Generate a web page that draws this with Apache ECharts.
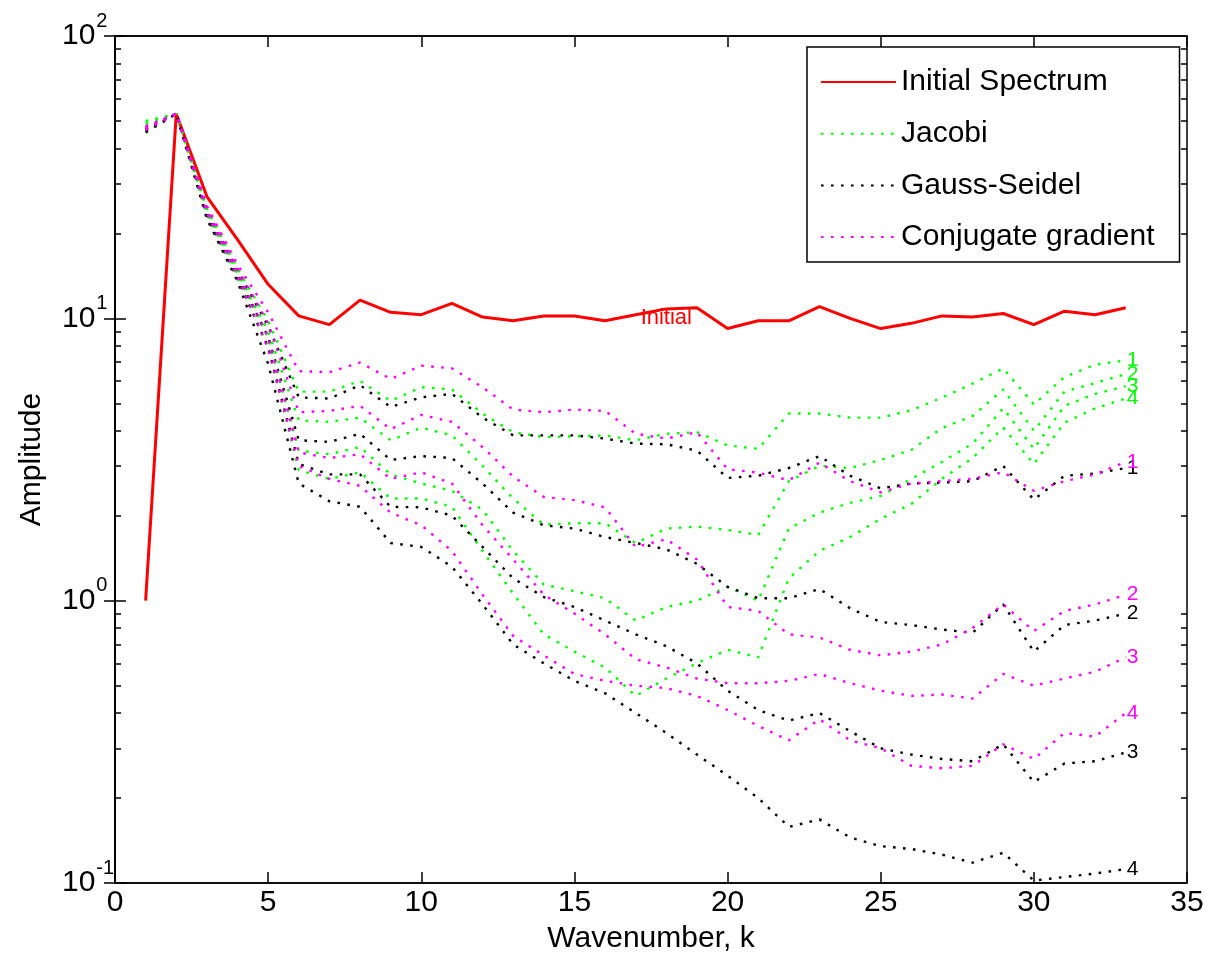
<!DOCTYPE html>
<html>
<head>
<meta charset="utf-8">
<script src="https://cdn.jsdelivr.net/npm/echarts@6/dist/echarts.min.js"></script>
<style>
  html, body { margin: 0; padding: 0; background: #fff; }
  #chart { width: 1216px; height: 975px; }
</style>
</head>
<body>
<div id="chart"></div>
<script>
// Wavenumbers sampled
const k = [1, 2, 3, 4, 5, 6, 7, 8, 9, 10, 11, 12, 13, 14, 15, 16, 17,
           18, 19, 20, 21, 22, 23, 24, 25, 26, 27, 28, 29, 30, 31, 32, 33];

// Initial error spectrum
const initialSpectrum = [1.0, 53, 27, 19, 13.2, 10.2, 9.5, 11.6, 10.5, 10.3, 11.3, 10.1, 9.8, 10.2, 10.2, 9.8, 10.3,
                         10.8, 10.9, 9.2, 9.8, 9.8, 11.0, 10.0, 9.2, 9.6, 10.2, 10.1, 10.4, 9.5, 10.6, 10.3, 10.9];

// Jacobi, curves 1-4
const jacobi1 = [50, 53, 24.5, 15.0, 9.8, 5.5, 5.5, 6.0, 5.1, 5.7, 5.6, 4.6, 3.95, 3.8, 3.82, 3.85, 3.7,
                 3.9, 3.95, 3.55, 3.45, 4.6, 4.6, 4.45, 4.45, 4.73, 5.24, 5.87, 6.65, 4.95, 6.2, 6.85, 7.1];
const jacobi2 = [49, 53, 24.0, 14.5, 9.0, 4.35, 4.3, 4.45, 3.7, 4.1, 3.85, 3.0, 2.3, 1.86, 1.88, 1.88, 1.6,
                 1.8, 1.83, 1.78, 1.71, 2.65, 3.0, 2.95, 3.15, 3.42, 4.09, 4.51, 5.6, 4.0, 5.5, 5.9, 6.35];
const jacobi3 = [48, 53, 23.5, 14.3, 8.5, 3.4, 3.3, 3.5, 2.8, 2.6, 2.45, 2.1, 1.5, 1.14, 1.08, 1.02, 0.85,
                 0.95, 1.0, 1.12, 1.0, 1.8, 2.05, 2.22, 2.35, 2.7, 3.1, 3.6, 4.8, 3.45, 4.9, 5.4, 5.75];
const jacobi4 = [47, 53, 23.0, 13.8, 7.9, 2.9, 2.7, 2.85, 2.3, 2.3, 2.15, 1.5, 1.06, 0.76, 0.66, 0.58, 0.46,
                 0.53, 0.6, 0.67, 0.63, 1.2, 1.5, 1.68, 1.95, 2.2, 2.7, 3.2, 4.1, 3.05, 4.27, 4.8, 5.2];

// Gauss-Seidel, curves 1-4
const gaussSeidel1 = [47, 53, 24.0, 14.8, 9.4, 5.25, 5.2, 5.8, 4.85, 5.25, 5.4, 4.45, 3.85, 3.85, 3.85, 3.75, 3.6,
                      3.58, 3.4, 2.72, 2.77, 2.95, 3.25, 2.77, 2.5, 2.6, 2.62, 2.65, 3.0, 2.28, 2.77, 2.82, 2.95];
const gaussSeidel2 = [46.5, 53, 23.5, 14.2, 8.6, 3.7, 3.65, 3.9, 3.15, 3.25, 3.2, 2.6, 2.05, 1.85, 1.8, 1.68, 1.6,
                      1.52, 1.35, 1.12, 1.02, 1.02, 1.1, 0.94, 0.84, 0.82, 0.79, 0.77, 0.97, 0.66, 0.82, 0.85, 0.9];
const gaussSeidel3 = [46, 53, 23.0, 13.8, 7.9, 3.05, 2.8, 2.8, 2.15, 2.14, 2.0, 1.55, 1.2, 1.03, 0.95, 0.85, 0.76,
                      0.69, 0.6, 0.48, 0.41, 0.376, 0.40, 0.345, 0.30, 0.285, 0.275, 0.27, 0.31, 0.228, 0.265, 0.27, 0.29];
const gaussSeidel4 = [45.5, 53, 22.5, 13.5, 6.9, 2.6, 2.25, 2.15, 1.6, 1.55, 1.32, 0.97, 0.7, 0.6, 0.52, 0.47, 0.40,
                      0.34, 0.285, 0.24, 0.20, 0.158, 0.168, 0.145, 0.135, 0.132, 0.126, 0.118, 0.128, 0.102, 0.105, 0.108, 0.112];

// Conjugate gradient, curves 1-4
const conjGrad1 = [48, 53, 25.0, 15.5, 10.5, 6.5, 6.45, 6.97, 6.1, 6.8, 6.65, 5.7, 4.75, 4.65, 4.75, 4.7, 3.9,
                   3.75, 3.95, 2.92, 2.84, 2.67, 3.08, 2.65, 2.42, 2.6, 2.65, 2.7, 2.85, 2.45, 2.65, 2.8, 3.1];
const conjGrad2 = [47.5, 53, 24.5, 15.0, 9.6, 4.65, 4.7, 4.9, 4.05, 4.55, 4.3, 3.5, 2.75, 2.33, 2.27, 2.14, 1.55,
                   1.65, 1.4, 0.95, 0.92, 0.76, 0.74, 0.67, 0.64, 0.66, 0.7, 0.8, 0.97, 0.78, 0.92, 0.97, 1.05];
const conjGrad3 = [47, 53, 24.0, 14.5, 8.6, 3.35, 3.2, 3.3, 2.7, 2.85, 2.6, 1.85, 1.4, 1.05, 0.9, 0.76, 0.62,
                   0.58, 0.53, 0.51, 0.51, 0.52, 0.55, 0.51, 0.48, 0.46, 0.465, 0.45, 0.55, 0.5, 0.53, 0.56, 0.63];
const conjGrad4 = [46.5, 53, 23.5, 14.0, 7.8, 3.0, 2.7, 2.55, 2.05, 1.85, 1.5, 1.05, 0.75, 0.64, 0.55, 0.52, 0.5,
                   0.49, 0.46, 0.41, 0.36, 0.32, 0.38, 0.32, 0.30, 0.26, 0.255, 0.26, 0.31, 0.275, 0.34, 0.33, 0.40];

// Axis ticks
const yDecades = [0.1, 1, 10, 100];
const yMinorTicks = [0.2, 0.3, 0.4, 0.5, 0.6, 0.7, 0.8, 0.9,
                     2, 3, 4, 5, 6, 7, 8, 9,
                     20, 30, 40, 50, 60, 70, 80, 90];

const FONT = "'Liberation Sans', Arial, Helvetica, sans-serif";
const RED = '#ff0000', GREEN = '#00ff00', BLACK = '#000000', MAGENTA = '#ff00ff';

const pairs = vals => k.map((x, i) => [x, vals[i]]);

function dottedSeries(name, vals, color, tag) {
  return {
    name: name,
    type: 'line',
    data: pairs(vals),
    symbol: 'none',
    showSymbol: false,
    silent: true,
    lineStyle: { color: color, width: 2.4, type: [2.6, 7.4], cap: 'butt' },
    itemStyle: { color: color },
    emphasis: { disabled: true },
    endLabel: {
      show: true,
      formatter: tag,
      color: color,
      fontSize: 21,
      fontFamily: FONT,
      distance: 1
    }
  };
}

const axisLineStyle = { color: BLACK, width: 1.5 };

const option = {
  animation: false,
  backgroundColor: '#ffffff',
  grid: {
    left: 115, right: 29, top: 36, bottom: 92, containLabel: false,
    show: true, borderColor: BLACK, borderWidth: 1.5, backgroundColor: 'transparent'
  },
  legend: {
    orient: 'vertical',
    left: 807,
    top: 47,
    padding: [20, 25, 10, 13],
    itemGap: 21.7,
    itemWidth: 75,
    itemHeight: 14,
    backgroundColor: '#ffffff',
    borderColor: BLACK,
    borderWidth: 1.5,
    borderRadius: 0,
    selectedMode: false,
    itemStyle: { opacity: 0, borderWidth: 0 },
    textStyle: { fontSize: 30, color: BLACK, fontFamily: FONT, lineHeight: 30 },
    data: ['Initial Spectrum', 'Jacobi', 'Gauss-Seidel', 'Conjugate gradient']
  },
  xAxis: [
    {
      type: 'value', position: 'bottom', min: 0, max: 35, interval: 5,
      name: 'Wavenumber, k', nameLocation: 'middle', nameGap: 41,
      nameTextStyle: { fontSize: 30, color: BLACK, fontFamily: FONT },
      axisLine: { show: true, lineStyle: axisLineStyle },
      axisTick: { show: true, inside: true, length: 11, lineStyle: axisLineStyle },
      axisLabel: { fontSize: 30, color: BLACK, fontFamily: FONT, margin: 5,
                   formatter: v => String(v) },
      splitLine: { show: false }
    },
    {
      type: 'value', position: 'top', min: 0, max: 35, interval: 5,
      axisLine: { show: true, lineStyle: axisLineStyle },
      axisTick: { show: true, inside: true, length: 11, lineStyle: axisLineStyle },
      axisLabel: { show: false },
      splitLine: { show: false }
    }
  ],
  yAxis: [
    {
      type: 'log', logBase: 10, position: 'left', min: yDecades[0], max: yDecades[yDecades.length - 1],
      name: 'Amplitude', nameLocation: 'middle', nameGap: 68,
      nameTextStyle: { fontSize: 30, color: BLACK, fontFamily: FONT },
      axisLine: { show: true, lineStyle: axisLineStyle },
      axisTick: { show: true, inside: true, length: 11, lineStyle: axisLineStyle },
      axisLabel: {
        align: 'left',
        margin: 53,
        formatter: v => '{b|10}{e|' + Math.round(Math.log10(v)) + '}',
        rich: {
          b: { fontSize: 30, color: BLACK, fontFamily: FONT },
          e: { fontSize: 20, color: BLACK, fontFamily: FONT, padding: [0, 0, 30, 1] }
        }
      },
      splitLine: { show: false }
    },
    {
      type: 'log', logBase: 10, position: 'right', min: yDecades[0], max: yDecades[yDecades.length - 1],
      axisLine: { show: true, lineStyle: axisLineStyle },
      axisTick: { show: true, inside: true, length: 11, lineStyle: axisLineStyle },
      axisLabel: { show: false },
      splitLine: { show: false }
    },
    {
      type: 'log', logBase: 10, position: 'left', min: yDecades[0], max: yDecades[yDecades.length - 1],
      axisLine: { show: false },
      axisTick: { show: true, inside: true, length: 6, lineStyle: axisLineStyle, customValues: yMinorTicks },
      axisLabel: { show: false },
      splitLine: { show: false }
    },
    {
      type: 'log', logBase: 10, position: 'right', min: yDecades[0], max: yDecades[yDecades.length - 1],
      axisLine: { show: false },
      axisTick: { show: true, inside: true, length: 6, lineStyle: axisLineStyle, customValues: yMinorTicks },
      axisLabel: { show: false },
      splitLine: { show: false }
    }
  ],
  series: [
    {
      name: 'Initial Spectrum',
      type: 'line',
      data: pairs(initialSpectrum),
      symbol: 'none',
      showSymbol: false,
      silent: true,
      z: 3,
      lineStyle: { color: RED, width: 3 },
      itemStyle: { color: RED },
      emphasis: { disabled: true },
      markPoint: {
        silent: true,
        symbol: 'rect',
        symbolSize: 1,
        itemStyle: { color: 'rgba(0,0,0,0)' },
        label: { show: true, position: 'inside', formatter: 'Initial', color: RED, fontSize: 22, fontFamily: FONT },
        data: [{ coord: [18, 10] }]
      }
    },
    dottedSeries('Jacobi', jacobi1, GREEN, '1'),
    dottedSeries('Jacobi', jacobi2, GREEN, '2'),
    dottedSeries('Jacobi', jacobi3, GREEN, '3'),
    dottedSeries('Jacobi', jacobi4, GREEN, '4'),
    dottedSeries('Gauss-Seidel', gaussSeidel1, BLACK, '1'),
    dottedSeries('Gauss-Seidel', gaussSeidel2, BLACK, '2'),
    dottedSeries('Gauss-Seidel', gaussSeidel3, BLACK, '3'),
    dottedSeries('Gauss-Seidel', gaussSeidel4, BLACK, '4'),
    dottedSeries('Conjugate gradient', conjGrad1, MAGENTA, '1'),
    dottedSeries('Conjugate gradient', conjGrad2, MAGENTA, '2'),
    dottedSeries('Conjugate gradient', conjGrad3, MAGENTA, '3'),
    dottedSeries('Conjugate gradient', conjGrad4, MAGENTA, '4')
  ]
};

const chart = echarts.init(document.getElementById('chart'), null, { renderer: 'canvas' });
chart.setOption(option);
</script>
</body>
</html>
